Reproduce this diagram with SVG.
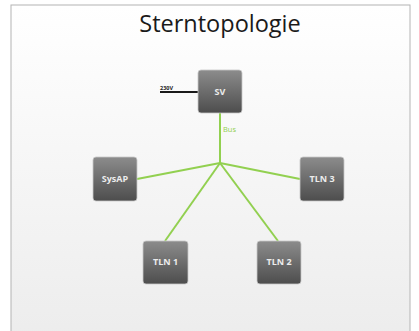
<svg xmlns="http://www.w3.org/2000/svg" width="419" height="331" viewBox="0 0 419 331">
<defs>
<linearGradient id="bg" x1="0" y1="0" x2="0" y2="1">
<stop offset="0" stop-color="#ffffff"/>
<stop offset="1" stop-color="#ececec"/>
</linearGradient>
<linearGradient id="box" x1="0" y1="0" x2="0" y2="1">
<stop offset="0" stop-color="#8c8c8c"/>
<stop offset="1" stop-color="#4d4d4d"/>
</linearGradient>
</defs>
<style>
.node rect{fill:url(#box);stroke:#c8c8c8;stroke-width:0.8}
.node text{font-family:"Open Sans","Liberation Sans",sans-serif;font-size:9px;font-weight:bold;fill:#ececec;text-anchor:middle}
.bus{stroke:#92d050;stroke-width:2;fill:none}
</style>
<rect x="0" y="0" width="419" height="331" fill="#ffffff"/>
<rect x="11" y="5" width="399" height="340" fill="url(#bg)" stroke="#b4b4b4" stroke-width="1"/>
<text x="220" y="32" font-family="Open Sans, Liberation Sans, sans-serif" font-size="23.5" fill="#1a1a1a" text-anchor="middle">Sterntopologie</text>
<g id="connectors">
<line x1="160" y1="92" x2="198" y2="92" stroke="#1a1a1a" stroke-width="2"/>
<text x="160" y="89.5" font-family="Open Sans, Liberation Sans, sans-serif" font-size="5.5" font-weight="bold" fill="#1a1a1a">230V</text>
<line class="bus" x1="220" y1="113" x2="220" y2="163"/>
<text x="223" y="132" font-family="Open Sans, Liberation Sans, sans-serif" font-size="7.5" fill="#92d050">Bus</text>
<line class="bus" x1="220" y1="163" x2="137" y2="179"/>
<line class="bus" x1="220" y1="163" x2="300" y2="179"/>
<line class="bus" x1="220" y1="163" x2="165" y2="241"/>
<line class="bus" x1="220" y1="163" x2="278" y2="241"/>
</g>
<g id="SV" class="node"><rect x="198" y="70" width="44" height="43" rx="3"/><text x="220" y="95">SV</text></g>
<g id="SysAP" class="node"><rect x="93" y="157" width="44" height="44" rx="3"/><text x="115" y="182">SysAP</text></g>
<g id="TLN3" class="node"><rect x="300" y="157" width="44" height="44" rx="3"/><text x="322" y="182">TLN 3</text></g>
<g id="TLN1" class="node"><rect x="143" y="241" width="45" height="43" rx="3"/><text x="165.5" y="265">TLN 1</text></g>
<g id="TLN2" class="node"><rect x="257" y="241" width="44" height="43" rx="3"/><text x="279" y="265">TLN 2</text></g>
</svg>
